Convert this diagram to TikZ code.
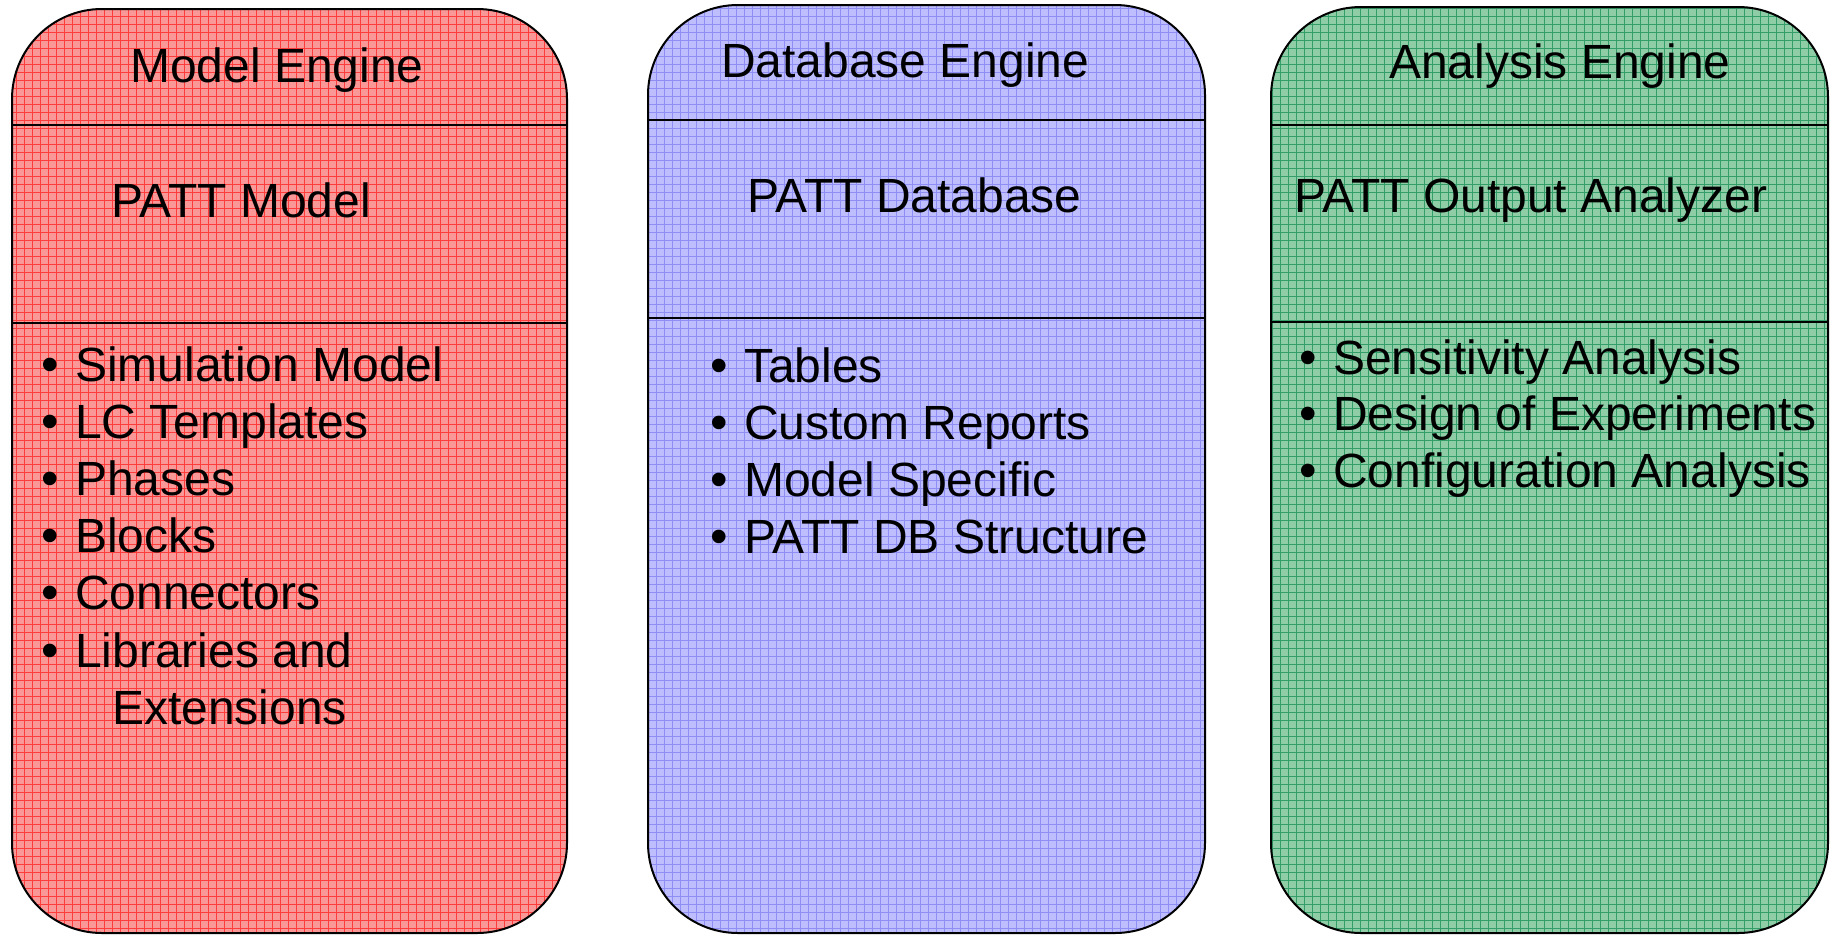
\documentclass[tikz,border=0pt]{standalone}
\usepackage{fontspec}
\setmainfont{Liberation Sans}

\definecolor{panelred}{RGB}{250,152,152}
\definecolor{gridred}{RGB}{255,60,60}
\definecolor{panelblue}{RGB}{190,190,255}
\definecolor{gridblue}{RGB}{142,142,245}
\definecolor{panelgreen}{RGB}{142,205,166}
\definecolor{gridgreen}{RGB}{52,158,106}

% bullet mark with a fixed gap before the item text
\newcommand{\pattdot}{\makebox[34pt][l]{\fontsize{50}{57}\selectfont •}}

\begin{document}
\begin{tikzpicture}[
    x=1pt, y=-1pt,
    panel/.style={draw=black,line width=2pt,rounded corners=90pt},
    divider/.style={black,line width=2pt},
    heading/.style={anchor=base west,inner sep=0pt,font=\fontsize{48}{57}\selectfont},
    item/.style={heading}
]
\useasboundingbox (0,0) rectangle (1830,935);

% Three engine panels: tinted fill, fine grid texture, rounded outline
\foreach \l/\t/\r/\c in {12/9/567/red, 648/5/1205/blue, 1271/7/1828/green} {
    \begin{scope}
        \clip[rounded corners=90pt] (\l,\t) rectangle (\r,933);
        \fill[panel\c] (\l,\t) rectangle (\r,933);
        \draw[grid\c,line width=0.8pt] (\l,\t) grid[step=8pt] (\r,933);
    \end{scope}
    \draw[panel] (\l,\t) rectangle (\r,933);
}

% Section dividers
\draw[divider] (12,125) -- (567,125);
\draw[divider] (12,323) -- (567,323);
\draw[divider] (648,120) -- (1205,120);
\draw[divider] (648,318) -- (1205,318);
\draw[divider] (1271,125) -- (1828,125);
\draw[divider] (1271,322) -- (1828,322);

% Engine names
\node[heading] (model head) at (130,82) {Model Engine};
\node[heading] (db head) at (721,77) {Database Engine};
\node[heading] (ana head) at (1389,78) {Analysis Engine};

% Tool names
\node[heading] (model tool) at (111,217) {PATT Model};
\node[heading] (db tool) at (747,212) {PATT Database};
\node[heading] (ana tool) at (1294,212) {PATT Output Analyzer};

% Feature lists
\foreach \txt [count=\i] in {Simulation Model, LC Templates, Phases, Blocks, Connectors, Libraries and}
    \node[item] (model-\i) at (41,{381+57.2*(\i-1)}) {\pattdot\txt};
\node[item] (model-7) at (112,724) {Extensions};

\foreach \txt [count=\i] in {Tables, Custom Reports, Model Specific, PATT DB Structure}
    \node[item] (db-\i) at (710,{382+57*(\i-1)}) {\pattdot\txt};

\foreach \txt [count=\i] in {Sensitivity Analysis, Design of Experiments, Configuration Analysis}
    \node[item] (ana-\i) at (1299,{374+56.5*(\i-1)}) {\pattdot\txt};

\end{tikzpicture}
\end{document}
